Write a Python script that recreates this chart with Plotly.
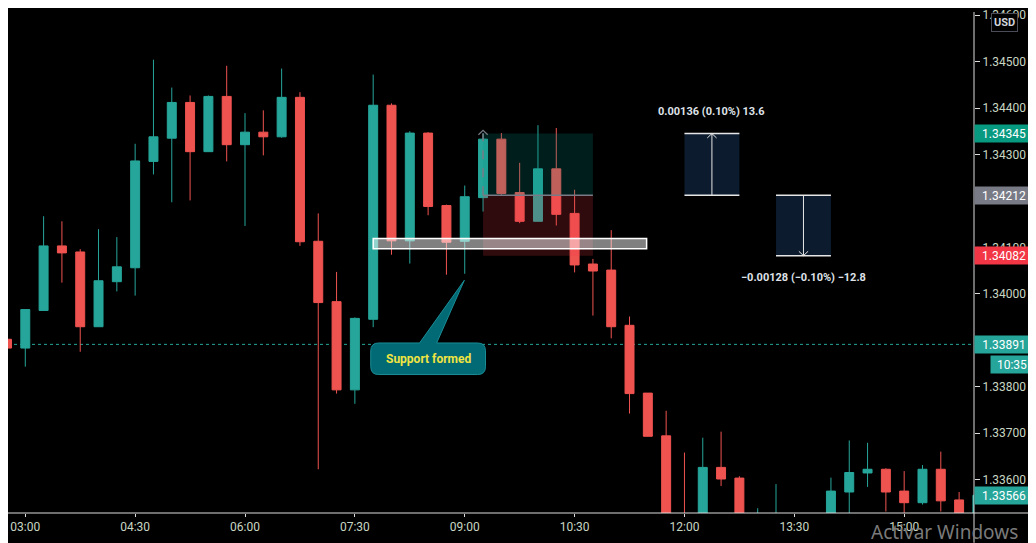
from datetime import timedelta

import pandas as pd
import plotly.graph_objects as go
from plotly.graph_objects import Figure

DAY = "2021-06-09"

# 15 minute candles from 02:45 to 16:00 (bodies under 1.3353 are off screen)
opens = [
    1.33902, 1.33883, 1.33964, 1.34103, 1.34090, 1.33929, 1.34026, 1.34056,
    1.34285, 1.34335, 1.34412, 1.34306, 1.34425, 1.34321, 1.34348, 1.34338,
    1.34423, 1.34113, 1.33983, 1.33793, 1.33945, 1.34406, 1.34114, 1.34346,
    1.34190, 1.34113, 1.34207, 1.34333, 1.34218, 1.34156, 1.34269, 1.34173,
    1.34064, 1.34051, 1.33932, 1.33786, 1.33694, 1.33500, 1.33470, 1.33626,
    1.33603, 1.33470, 1.33490, 1.33500, 1.33505, 1.33510, 1.33573, 1.33614,
    1.33622, 1.33575, 1.33550, 1.33622, 1.33556, 1.33520,
]
highs = [
    1.33905, 1.33966, 1.34167, 1.34156, 1.34096, 1.34139, 1.34122, 1.34323,
    1.34504, 1.34444, 1.34427, 1.34427, 1.34491, 1.34389, 1.34395, 1.34485,
    1.34434, 1.34173, 1.34047, 1.33949, 1.34472, 1.34410, 1.34350, 1.34348,
    1.34192, 1.34233, 1.34346, 1.34346, 1.34282, 1.34363, 1.34357, 1.34224,
    1.34075, 1.34137, 1.33951, 1.33786, 1.33748, 1.33658, 1.33690, 1.33703,
    1.33607, 1.33538, 1.33590, 1.33522, 1.33524, 1.33604, 1.33684, 1.33679,
    1.33624, 1.33618, 1.33631, 1.33660, 1.33573, 1.33580,
]
lows = [
    1.33828, 1.33843, 1.33963, 1.34024, 1.33875, 1.33929, 1.34005, 1.33996,
    1.34257, 1.34197, 1.34201, 1.34306, 1.34285, 1.34146, 1.34298, 1.34336,
    1.34103, 1.33622, 1.33785, 1.33763, 1.33928, 1.34084, 1.34065, 1.34169,
    1.34041, 1.34043, 1.34177, 1.34213, 1.34152, 1.34156, 1.34147, 1.34046,
    1.33953, 1.33904, 1.33742, 1.33693, 1.33490, 1.33450, 1.33455, 1.33586,
    1.33480, 1.33450, 1.33470, 1.33480, 1.33490, 1.33495, 1.33515, 1.33584,
    1.33531, 1.33525, 1.33546, 1.33531, 1.33505, 1.33510,
]
closes = [
    1.33883, 1.33966, 1.34103, 1.34088, 1.33929, 1.34028, 1.34058, 1.34286,
    1.34338, 1.34412, 1.34306, 1.34425, 1.34321, 1.34348, 1.34338, 1.34423,
    1.34112, 1.33981, 1.33793, 1.33947, 1.34406, 1.34114, 1.34346, 1.34188,
    1.34111, 1.34209, 1.34333, 1.34216, 1.34156, 1.34269, 1.34171, 1.34062,
    1.34049, 1.33929, 1.33785, 1.33693, 1.33505, 1.33470, 1.33626, 1.33601,
    1.33500, 1.33515, 1.33520, 1.33515, 1.33520, 1.33575, 1.33615, 1.33622,
    1.33573, 1.33550, 1.33622, 1.33554, 1.33515, 1.33566,
]
times = pd.date_range(f"{DAY} 02:45", periods=len(opens), freq="15min")

# price scale ticks (1.342 / 1.339 sit under the price labels)
price_ticks = [1.336, 1.337, 1.338, 1.340, 1.341, 1.343, 1.344, 1.345, 1.346]

# long position tool
entry_price = 1.34212
target_price = 1.34345
stop_price = 1.34082
position_start = f"{DAY} 09:15"
position_end = f"{DAY} 10:45"

# support zone
support_low = 1.34097
support_high = 1.34119
support_start = f"{DAY} 07:45"
support_end = f"{DAY} 11:29"

# price lines / scale labels
marked_price = 1.33891
countdown = "10:35"
last_price = closes[-1]

gain_text = "0.00136 (0.10%) 13.6"
loss_text = "\u22120.00128 (\u22120.10%) \u221212.8"
callout_text = "Support formed"

UP = "#26a69a"
DOWN = "#ef5350"
TEXT = "#c9d6c3"
FONT = "Roboto"

# page body keeps an 8px margin, so the figure is 8px smaller than the window
W, H = 1028, 535
PLOT_W, PLOT_H = 966, 505


def pt(t, p) -> str:
    return f"{pd.Timestamp(t):%Y-%m-%d_%H:%M:%S},{p:.6f}"


def chevron(t, p, up: bool) -> str:
    t = pd.Timestamp(t)
    dx = timedelta(minutes=3.8)
    dy = -0.000095 if up else 0.000095
    return f"M{pt(t - dx, p + dy)} L{pt(t, p)} L{pt(t + dx, p + dy)}"


def callout_path(x0, x1, y0, y1, base0, base1, tip) -> str:
    x0, x1, base0, base1 = map(pd.Timestamp, (x0, x1, base0, base1))
    rx = timedelta(minutes=6.5)
    ry = 0.00017
    return " ".join(
        [
            f"M{pt(x0 + rx, y1)}",
            f"L{pt(base0, y1)}",
            f"L{pt(*tip)}",
            f"L{pt(base1, y1)}",
            f"L{pt(x1 - rx, y1)}",
            f"Q{pt(x1, y1)} {pt(x1, y1 - ry)}",
            f"L{pt(x1, y0 + ry)}",
            f"Q{pt(x1, y0)} {pt(x1 - rx, y0)}",
            f"L{pt(x0 + rx, y0)}",
            f"Q{pt(x0, y0)} {pt(x0, y0 + ry)}",
            f"L{pt(x0, y1 - ry)}",
            f"Q{pt(x0, y1)} {pt(x0 + rx, y1)} Z",
        ]
    )


def measure_box(fig: Figure, t0, t1, p_from, p_to, text):
    up = p_to > p_from
    mid = pd.Timestamp(t0) + (pd.Timestamp(t1) - pd.Timestamp(t0)) / 2
    lo, hi = min(p_from, p_to), max(p_from, p_to)
    fig.add_shape(
        type="rect", x0=t0, x1=t1, y0=lo, y1=hi,
        fillcolor="#0c1c2e", line_width=0,
    )
    for p in (lo, hi):
        fig.add_shape(
            type="line", x0=t0, x1=t1, y0=p, y1=p,
            line=dict(color="#e6e6e6", width=1.5),
        )
    fig.add_shape(
        type="line", x0=mid, x1=mid, y0=lo, y1=hi,
        line=dict(color="#e6e6e6", width=1),
    )
    fig.add_shape(
        type="path", path=chevron(mid, p_to, up),
        line=dict(color="#e6e6e6", width=1),
    )
    fig.add_annotation(
        x=mid, y=p_to, text=f"<b>{text}</b>", showarrow=False,
        yanchor="bottom" if up else "top", yshift=14 if up else -13,
        font=dict(family=FONT, size=11, color="#dfe2e8"),
    )


def price_label(fig: Figure, price, color, yshift=0):
    fig.add_annotation(
        xref="paper", x=1.0, xanchor="left", y=price, yshift=yshift,
        text=f"{price:.5f}", showarrow=False, bgcolor=color,
        width=56, height=15, borderpad=1,
        font=dict(family=FONT, size=12, color="#ffffff"),
    )


fig = go.Figure(
    go.Candlestick(
        x=times,
        open=opens,
        high=highs,
        low=lows,
        close=closes,
        increasing=dict(line=dict(color=UP, width=1), fillcolor=UP),
        decreasing=dict(line=dict(color=DOWN, width=1), fillcolor=DOWN),
        whiskerwidth=0,
        hoverinfo="skip",
        showlegend=False,
    )
)

# dotted marked price line
fig.add_shape(
    type="line", xref="paper", x0=0, x1=1, y0=marked_price, y1=marked_price,
    line=dict(color=UP, width=1, dash="dot"), layer="below",
)

# long position zones
fig.add_shape(
    type="rect", x0=position_start, x1=position_end, y0=entry_price, y1=target_price,
    fillcolor="rgba(0,150,136,0.2)", line_width=0, layer="above",
)
fig.add_shape(
    type="rect", x0=position_start, x1=position_end, y0=stop_price, y1=entry_price,
    fillcolor="rgba(242,54,69,0.2)", line_width=0, layer="above",
)
fig.add_shape(
    type="line", x0=position_start, x1=position_end, y0=entry_price, y1=entry_price,
    line=dict(color="#787b86", width=1.5), layer="above",
)
fig.add_shape(
    type="line", x0=position_start, x1=position_start, y0=entry_price, y1=target_price,
    line=dict(color="#787b86", width=1.5, dash="dash"), layer="above",
)
fig.add_shape(
    type="path", path=chevron(position_start, target_price + 0.00007, True),
    line=dict(color="#787b86", width=1.2), layer="above",
)

# support zone
fig.add_shape(
    type="rect", x0=support_start, x1=support_end, y0=support_low, y1=support_high,
    fillcolor="rgba(255,255,255,0.5)", line=dict(color="#ffffff", width=1.5),
    layer="above",
)

# measurement boxes
measure_box(fig, f"{DAY} 12:00", f"{DAY} 12:45", entry_price, target_price, gain_text)
measure_box(fig, f"{DAY} 13:15", f"{DAY} 14:00", entry_price, stop_price, loss_text)

# callout
box_left, box_right = f"{DAY} 07:43", f"{DAY} 09:17"
box_top, box_bottom = 1.33894, 1.33826
fig.add_shape(
    type="path",
    path=callout_path(
        box_left, box_right, box_bottom, box_top,
        f"{DAY} 08:23", f"{DAY} 08:37", (f"{DAY} 08:59:40", 1.34029),
    ),
    fillcolor="#016a74", line=dict(color="#1a8d97", width=1), layer="above",
)
fig.add_annotation(
    x=f"{DAY} 08:30", y=(box_top + box_bottom) / 2, text="<b>" + callout_text + "</b>",
    showarrow=False, font=dict(family=FONT, size=12, color="#f0e442"),
)

# axis lines running into the margins
line_color = "#dcdcdc"
fig.add_shape(type="line", xref="paper", yref="paper", x0=0, x1=W / PLOT_W, y0=0, y1=0,
              line=dict(color=line_color, width=1))
fig.add_shape(type="line", xref="paper", yref="paper", x0=1, x1=1,
              y0=-(H - PLOT_H) / PLOT_H, y1=1.0,
              line=dict(color=line_color, width=1))

# price scale labels
price_label(fig, target_price, "#089981")
price_label(fig, entry_price, "#787b86")
price_label(fig, stop_price, "#f23645")
price_label(fig, marked_price, UP)
price_label(fig, last_price, UP)
fig.add_annotation(
    xref="paper", x=1026 / PLOT_W, xanchor="right", y=marked_price, yshift=-20,
    text=countdown, showarrow=False, bgcolor=UP, width=40, height=15, borderpad=1,
    font=dict(family=FONT, size=12, color="#ffffff"),
)
fig.add_annotation(
    xref="paper", yref="paper", x=996 / PLOT_W, y=(PLOT_H - 11) / PLOT_H,
    xanchor="center", yanchor="middle", text="<b>USD</b>",
    showarrow=False, bgcolor="#000000", bordercolor="#4a4d57", borderwidth=1,
    borderpad=2, font=dict(family=FONT, size=11, color="#d1d4dc"),
)
fig.add_annotation(
    xref="paper", yref="paper", x=936 / PLOT_W, y=-19 / PLOT_H,
    xanchor="center", yanchor="middle", text="Activar Windows",
    showarrow=False, font=dict(family="Noto Sans", size=19, color="#7a7a7a"),
)

fig.update_layout(
    width=W,
    height=H,
    margin=dict(l=0, r=W - PLOT_W, t=0, b=H - PLOT_H, pad=0),
    paper_bgcolor="#000000",
    plot_bgcolor="#000000",
    font=dict(family=FONT, size=12, color=TEXT),
    showlegend=False,
    xaxis=dict(
        type="date",
        range=[f"{DAY} 02:45:50", f"{DAY} 15:57:12"],
        rangeslider=dict(visible=False),
        showgrid=False,
        zeroline=False,
        showline=False,
        ticks="outside",
        ticklen=3,
        tickcolor=line_color,
        tick0=f"{DAY} 03:00",
        dtick=90 * 60 * 1000,
        tickformat="%H:%M",
        tickfont=dict(family=FONT, size=12, color=TEXT),
    ),
    yaxis=dict(
        side="right",
        range=[1.335278, 1.346068],
        showgrid=False,
        zeroline=False,
        showline=False,
        ticks="outside",
        ticklen=5,
        tickcolor=line_color,
        tickvals=price_ticks,
        tickformat=".5f",
        ticklabeloverflow="allow",
        tickfont=dict(family=FONT, size=12, color=TEXT),
    ),
)

fig.write_html("out.html")
